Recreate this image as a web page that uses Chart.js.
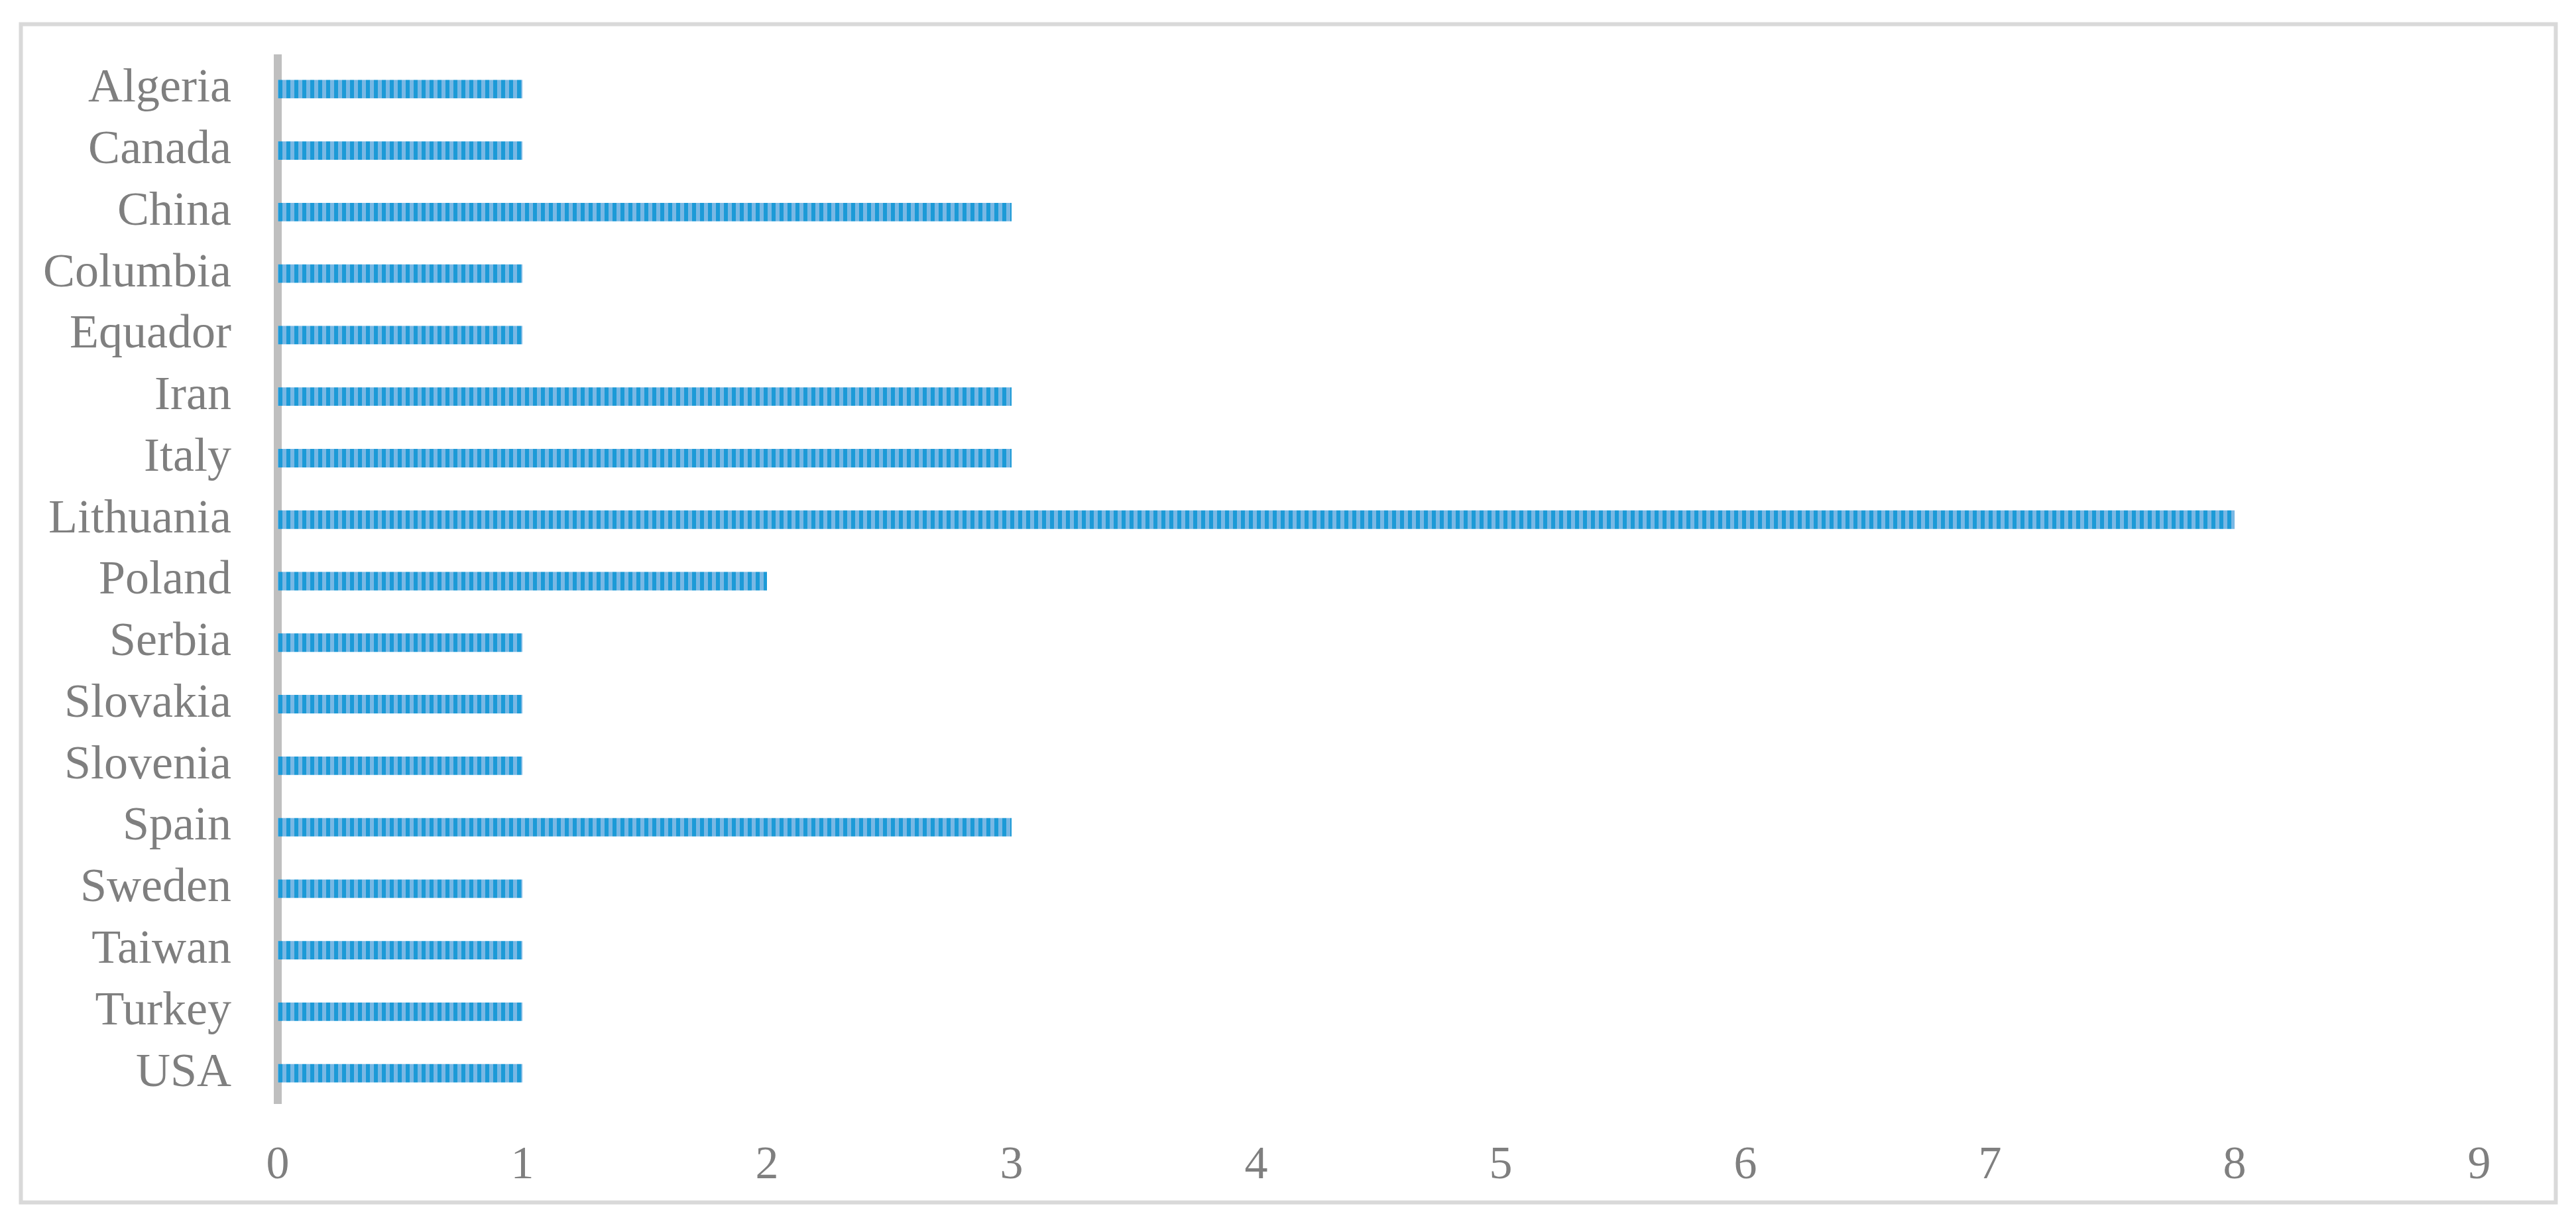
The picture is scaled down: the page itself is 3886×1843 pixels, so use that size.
<!DOCTYPE html>
<html>
<head>
<meta charset="utf-8">
<script src="https://cdn.jsdelivr.net/npm/chart.js@4/dist/chart.umd.min.js"></script>
<style>
  html, body { margin: 0; padding: 0; background: #ffffff; }
  #wrap { position: relative; width: 3886px; height: 1843px; }
  canvas { display: block; }
</style>
</head>
<body>
<div id="wrap"><canvas id="c" width="3886" height="1843"></canvas></div>
<script>
// ---- Data ----
const countries = ["Algeria", "Canada", "China", "Columbia", "Equador", "Iran", "Italy",
  "Lithuania", "Poland", "Serbia", "Slovakia", "Slovenia", "Spain", "Sweden",
  "Taiwan", "Turkey", "USA"];
const counts = [1, 1, 3, 1, 1, 3, 3, 8, 2, 1, 1, 1, 3, 1, 1, 1, 1];
const xTicks = [0, 1, 2, 3, 4, 5, 6, 7, 8, 9];

// ---- Striped bar fill ----
function makeStripePattern() {
  const p = document.createElement('canvas');
  p.width = 12; p.height = 4;
  const g = p.getContext('2d');
  g.fillStyle = '#79b8e4';
  g.fillRect(0, 0, 12, 4);
  g.fillStyle = '#1c9ad7';
  g.fillRect(0, 0, 6, 4);
  return g.createPattern(p, 'repeat');
}

const frame = {
  id: 'frame',
  beforeDraw(chart) {
    const ctx = chart.ctx;
    ctx.save();
    ctx.fillStyle = '#ffffff';
    ctx.fillRect(0, 0, chart.width, chart.height);
    ctx.strokeStyle = '#d9d9d9';
    ctx.lineWidth = 6;
    ctx.strokeRect(31.5, 36.5, 3824, 1777);
    ctx.restore();
  }
};

const ctx = document.getElementById('c').getContext('2d');
new Chart(ctx, {
  type: 'bar',
  data: {
    labels: countries,
    datasets: [{
      data: counts,
      backgroundColor: makeStripePattern(),
      borderWidth: 0,
      categoryPercentage: 1.0,
      barPercentage: 0.3
    }]
  },
  options: {
    indexAxis: 'y',
    responsive: false,
    animation: false,
    devicePixelRatio: 1,
    layout: { padding: { left: 0, right: 146, top: 88, bottom: 0 } },
    plugins: { legend: { display: false }, tooltip: { enabled: false }, title: { display: false } },
    scales: {
      x: {
        type: 'linear',
        min: xTicks[0],
        max: xTicks[xTicks.length - 1],
        afterBuildTicks(scale) { scale.ticks = xTicks.map(v => ({ value: v })); },
        afterFit(scale) { scale.height = 178; scale.paddingLeft = 0; scale.paddingRight = 0; },
        grid: { display: false, drawTicks: false },
        border: { display: false },
        ticks: {
          padding: 52,
          color: '#7f7f7f',
          font: { family: '"Liberation Serif", "DejaVu Serif", serif', size: 70 }
        }
      },
      y: {
        z: 1,
        afterFit(scale) { scale.width = 419; scale.paddingTop = 0; scale.paddingBottom = 0; },
        grid: { display: false, drawTicks: false, lineWidth: 0 },
        border: { display: true, color: '#bfbfbf', width: 12 },
        ticks: {
          padding: 70,
          color: '#7f7f7f',
          font: { family: '"Liberation Serif", "DejaVu Serif", serif', size: 72 }
        }
      }
    }
  },
  plugins: [frame]
});
</script>
</body>
</html>
